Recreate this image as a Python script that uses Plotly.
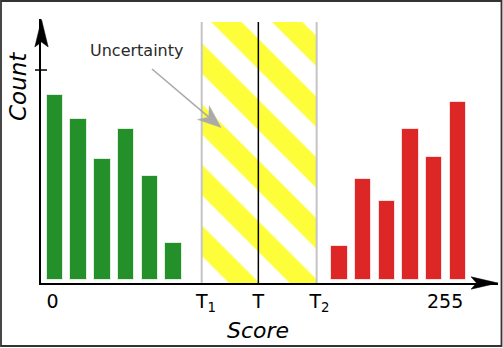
import math
import plotly.graph_objects as go

# ---- data (histogram bins in "bin index" units, counts in arbitrary units) ----
green_bins = [0, 1, 2, 3, 4, 5]
green_counts = [8.8, 7.65, 5.75, 7.2, 4.95, 1.75]
red_bins = [12, 13, 14, 15, 16, 17]
red_counts = [1.6, 4.8, 3.75, 7.2, 5.85, 8.5]

T1, T, T2 = 6.19, 8.58, 11.04
band_top = 12.29

tick_vals = [-0.105, 6.37, 8.58, 11.16, 16.46]
tick_text = ["0", "T<sub>1</sub>", "T", "T<sub>2</sub>", "255"]
count_tick = 10

X_RANGE = [-0.5907, 18.692]
Y_RANGE = [-0.1429, 12.43]

W, H = 503, 348
ML, MR, MT, MB = 41, 5, 19, 65
PW, PH = W - ML - MR, H - MT - MB


def px(X, Y):
    return (X - ML) / PW, (H - MB - Y) / PH


FONT = "DejaVu Sans"

fig = go.Figure()

# uncertainty band (hatched)
fig.add_trace(go.Bar(
    x=[(T1 + T2) / 2], y=[band_top - Y_RANGE[0]], base=[Y_RANGE[0]],
    width=[T2 - T1],
    marker=dict(color="white", line=dict(width=0),
                pattern=dict(shape="\\", fgcolor="#fdfd3a", bgcolor="white",
                             size=43, solidity=0.5, fillmode="replace")),
    hoverinfo="skip", showlegend=False,
))

fig.add_trace(go.Bar(x=green_bins, y=green_counts, width=0.7,
                     marker=dict(color="#24902a", line=dict(color="rgba(255,255,255,0.7)", width=1)),
                     showlegend=False))
fig.add_trace(go.Bar(x=red_bins, y=red_counts, width=0.7,
                     marker=dict(color="#dd2626", line=dict(color="rgba(255,255,255,0.7)", width=1)),
                     showlegend=False))

shapes = []
# threshold lines
for xv, col, w in [(T1, "#c4c4c4", 2), (T2, "#c4c4c4", 2), (T, "black", 1.5)]:
    shapes.append(dict(type="line", xref="x", yref="y", x0=xv, x1=xv,
                       y0=Y_RANGE[0], y1=band_top, line=dict(color=col, width=w)))
# y tick mark
shapes.append(dict(type="line", xref="paper", yref="y", x0=px(35, 0)[0], x1=px(47, 0)[0],
                   y0=count_tick, y1=count_tick, line=dict(color="black", width=1.5)))


def path(pts):
    s = ""
    for i, (X, Y) in enumerate(pts):
        a, b = px(X, Y)
        s += ("M" if i == 0 else "L") + f"{a:.5f},{b:.5f}"
    return s + "Z"


# axis arrowheads
shapes.append(dict(type="path", xref="paper", yref="paper", layer="above",
                   path=path([(41.5, 19.5), (48.2, 47), (41.5, 42), (34.8, 47)]),
                   fillcolor="black", line=dict(color="black", width=0.5)))
shapes.append(dict(type="path", xref="paper", yref="paper", layer="above",
                   path=path([(498, 283), (471, 289.2), (476.5, 283), (471, 276.8)]),
                   fillcolor="black", line=dict(color="black", width=0.5)))

# pointer arrow from the "Uncertainty" label into the band
tail = (152.0, 69.0)
tip = (221.0, 127.5)
dx, dy = tip[0] - tail[0], tip[1] - tail[1]
L = math.hypot(dx, dy)
ux_, uy_ = dx / L, dy / L
nx_, ny_ = -uy_, ux_
head_len, head_half, notch = 23.0, 9.0, 16.0
notch_pt = (tip[0] - notch * ux_, tip[1] - notch * uy_)
a0, b0 = px(*tail)
a1, b1 = px(*notch_pt)
shapes.append(dict(type="line", xref="paper", yref="paper", x0=a0, y0=b0, x1=a1, y1=b1,
                   line=dict(color="#aaaaaa", width=1.6)))
wing1 = (tip[0] - head_len * ux_ + head_half * nx_, tip[1] - head_len * uy_ + head_half * ny_)
wing2 = (tip[0] - head_len * ux_ - head_half * nx_, tip[1] - head_len * uy_ - head_half * ny_)
shapes.append(dict(type="path", xref="paper", yref="paper", layer="above",
                   path=path([tip, wing1, notch_pt, wing2]),
                   fillcolor="#aaaaaa", line=dict(color="#aaaaaa", width=0.5)))

# outer border
bx0, by0 = px(1, 1)
bx1, by1 = px(501.5, 346)
shapes.append(dict(type="rect", xref="paper", yref="paper", x0=bx0, x1=bx1, y0=by1, y1=by0,
                   line=dict(color="#333333", width=1.8)))

annotations = []
cx, cy = px(18, 87)
annotations.append(dict(xref="paper", yref="paper", x=cx, y=cy, text="<i>Count</i>",
                        textangle=-90, showarrow=False, xanchor="center", yanchor="middle",
                        font=dict(family=FONT, size=23, color="black")))
sx, sy = px(258.3, 330.5)
annotations.append(dict(xref="paper", yref="paper", x=sx, y=sy, text="<i>Score</i>",
                        showarrow=False, xanchor="center", yanchor="middle",
                        font=dict(family=FONT, size=22, color="black")))
ux, uy = px(136.5, 50)
annotations.append(dict(xref="paper", yref="paper", x=ux, y=uy, text="Uncertainty",
                        showarrow=False, xanchor="center", yanchor="middle",
                        font=dict(family=FONT, size=16, color="#2a2a2a")))

fig.update_layout(
    width=W, height=H,
    margin=dict(l=ML, r=MR, t=MT, b=MB, pad=0),
    plot_bgcolor="white", paper_bgcolor="white",
    barmode="overlay", bargap=0,
    shapes=shapes, annotations=annotations,
    xaxis=dict(range=X_RANGE, showgrid=False, zeroline=False, showline=True,
               linecolor="black", linewidth=2, ticks="", tickvals=tick_vals,
               ticktext=tick_text, tickfont=dict(family=FONT, size=19, color="black"),
               fixedrange=True),
    yaxis=dict(range=Y_RANGE, showgrid=False, zeroline=False, showline=True,
               linecolor="black", linewidth=2, showticklabels=False, ticks="",
               fixedrange=True),
    font=dict(family=FONT),
)

fig.write_html("out.html")
